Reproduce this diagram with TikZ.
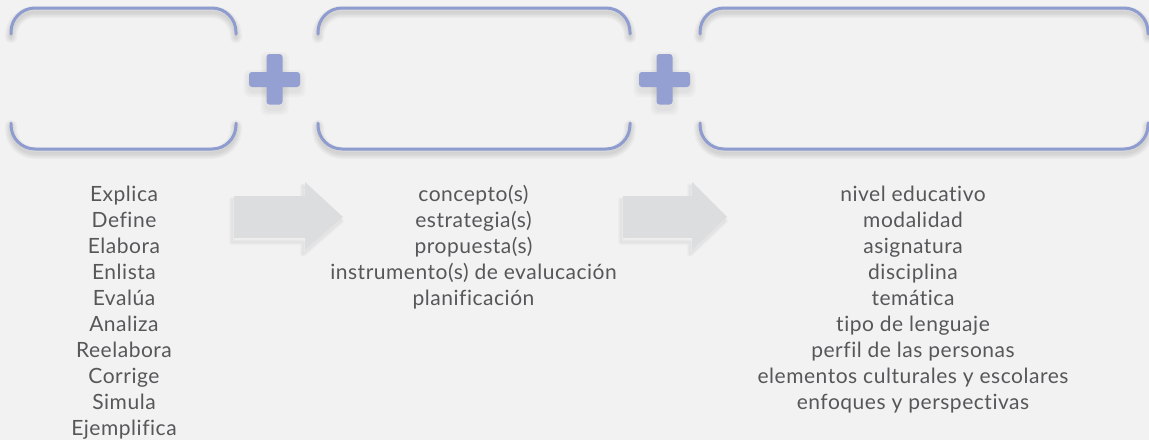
\documentclass[tikz,border=0pt]{standalone}
\usepackage{fontspec}
\setmainfont{Lato}[Ligatures=NoCommon, LetterSpace=2.5]
\usetikzlibrary{positioning}
\definecolor{PageBg}{HTML}{F2F2F2}
\definecolor{Lilac}{HTML}{8F9CCF}
\definecolor{PlusC}{HTML}{93A0D1}
\definecolor{ArrowC}{HTML}{DCDDDF}
\definecolor{TextC}{HTML}{57575A}

\begin{document}
\begin{tikzpicture}[x=1pt, y=-1pt,
    bracket/.style={draw=Lilac, line width=3pt, line cap=round, rounded corners=24pt},
    shade/.style={draw=black, opacity=0.03, line cap=round, rounded corners=24pt},
    list/.style={align=center, text=TextC, font=\fontsize{21}{26}\selectfont, inner sep=0pt, anchor=north, execute at begin node=\strut}]
      \fill[PageBg] (0,0) rectangle (1149,440);
      \useasboundingbox (0,0) rectangle (1149,440);

      % open boxes, top and bottom halves
      \foreach \l/\r in {11/236, 318/630, 700/1148} {
        \foreach \w in {3,6,9,12} {
          \draw[shade, line width=\w pt] (\l,37) -- (\l,12) -- (\r,12) -- (\r,37);
          \draw[shade, line width=\w pt] (\l,126) -- (\l,153) -- (\r,153) -- (\r,126);
        }
        \draw[bracket] (\l,34) -- (\l,8) -- (\r,8) -- (\r,34);
        \draw[bracket] (\l,123) -- (\l,149) -- (\r,149) -- (\r,123);
      }

      % plus signs
      \foreach \c in {274.5, 664.5} {
        \foreach \g in {2,4,6} {
          \fill[black, opacity=0.025, rounded corners=6pt] (\c-25-\g,76-\g) rectangle (\c+25+\g,91+\g);
          \fill[black, opacity=0.025, rounded corners=6pt] (\c-8-\g,58-\g) rectangle (\c+8+\g,109+\g);
        }
        \fill[PlusC, rounded corners=3pt] (\c-25.5,72) rectangle (\c+25.5,87);
        \fill[PlusC, rounded corners=3pt] (\c-8,54) rectangle (\c+8,104.5);
      }

      % block arrows
      \foreach \a/\b/\t in {234/305/343, 623/692/727} {
        \foreach \g in {2,4,6} {
          \draw[black, opacity=0.02, line width=\g pt, line join=round]
            (\a-2,200) -- (\b-2,200) -- (\b-2,186) -- (\t-2,221) -- (\b-2,254) -- (\b-2,242) -- (\a-2,242) -- cycle;
        }
        \fill[ArrowC] (\a,196) -- (\b,196) -- (\b,182) -- (\t,217) -- (\b,250) -- (\b,238) -- (\a,238) -- cycle;
      }

      % lists
      \node[list] (verbs) at (124,185.5) {Explica\\Define\\Elabora\\Enlista\\Evalúa\\Analiza\\Reelabora\\Corrige\\Simula\\Ejemplifica};
      \node[list] (products) at (473.5,185.5) {concepto(s)\\estrategia(s)\\propuesta(s)\\instrumento(s) de evalucación\\planificación};
      \node[list] (context) at (913,185.5) {nivel educativo\\modalidad\\asignatura\\disciplina\\temática\\tipo de lenguaje\\perfil de las personas\\elementos culturales y escolares\\enfoques y perspectivas};
    \end{tikzpicture}
\end{document}
